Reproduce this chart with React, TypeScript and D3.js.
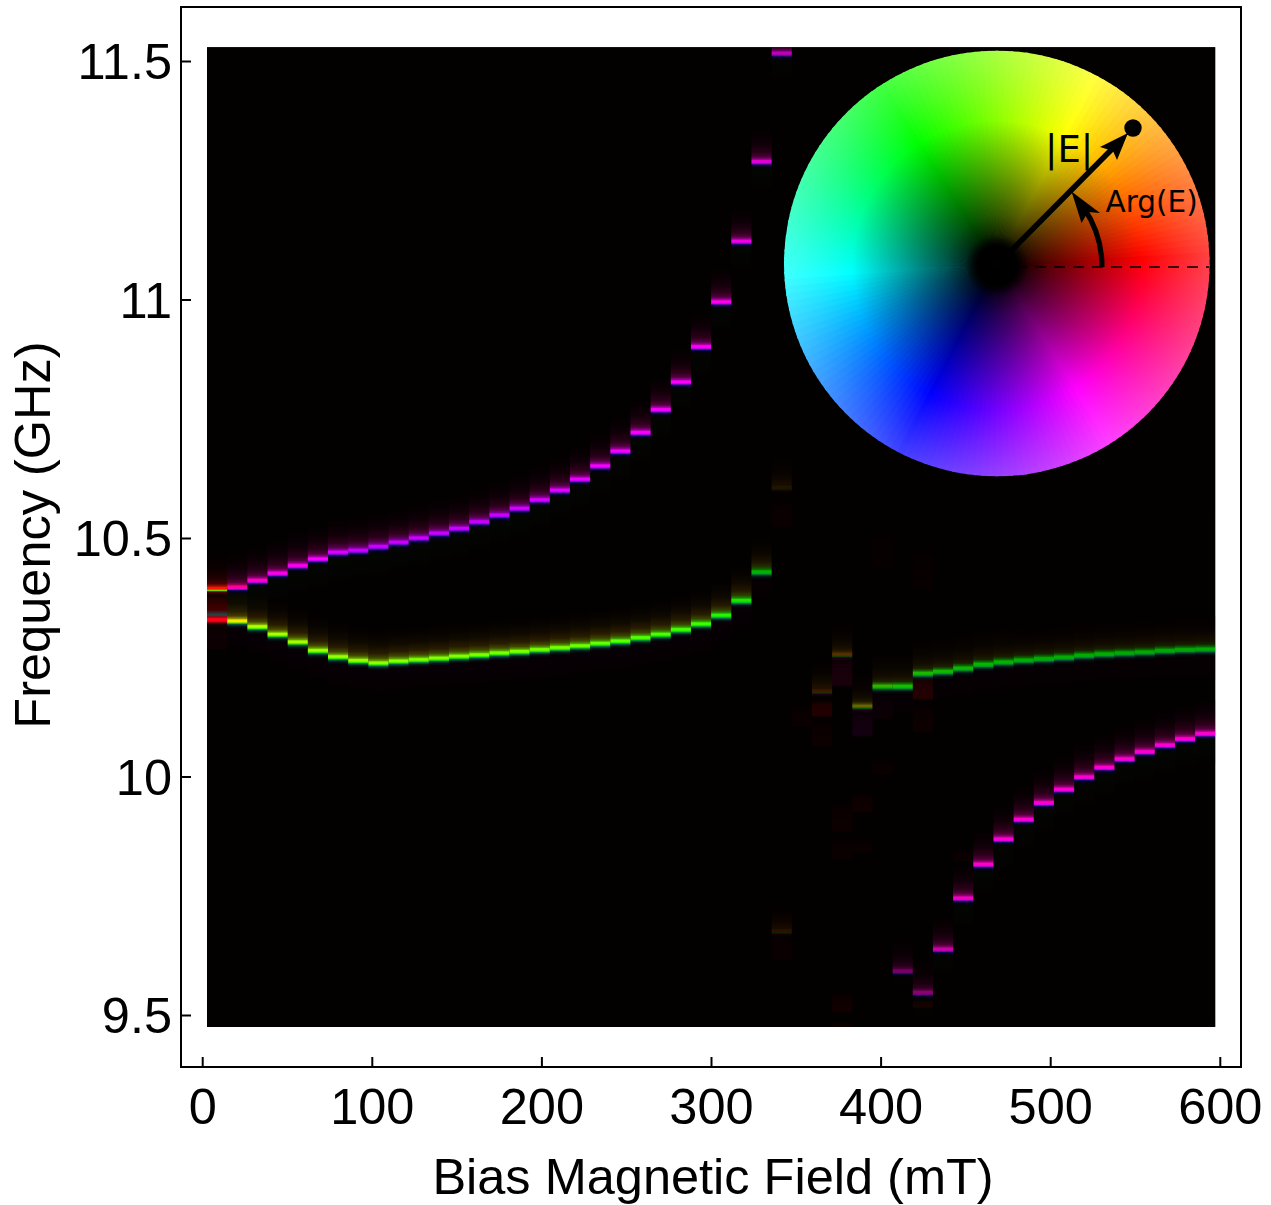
import React from "react";
import * as d3 from "d3";

const W = 1271;
const H = 1205;

const xTicks = [0, 100, 200, 300, 400, 500, 600];
const yTicks = [9.5, 10, 10.5, 11, 11.5];
const xLabel = "Bias Magnetic Field (mT)";
const yLabel = "Frequency (GHz)";

const fieldStart = 2.53;
const fieldStep = 11.89;
const columnCount = 50;
const freqTop = 11.53;
const freqBottom = 9.476;

// Upper branch, columns 0..28
const upperFreq = [10.394, 10.397, 10.411, 10.426, 10.442, 10.456, 10.47, 10.474, 10.482, 10.491, 10.5, 10.51, 10.52, 10.534, 10.548, 10.562, 10.58, 10.6, 10.623, 10.651, 10.682, 10.721, 10.769, 10.827, 10.901, 10.995, 11.122, 11.289, 11.516];
const upperHue = [5, 325, 312, 306, 304, 300, 292, 288, 288, 288, 288, 288, 288, 288, 288, 290, 292, 294, 296, 298, 298, 300, 300, 300, 302, 304, 304, 304, 304];
const upperAmp = [1, 1, 1, 1, 1, 1, 1, 1, 1, 1, 1, 1, 1, 1, 1, 1, 1, 1, 1, 1, 1, 1, 1, 1, 1, 1, 0.95, 0.9, 0.75];

// Lower branch, columns 0..27
const lowerFreq = [10.329, 10.326, 10.314, 10.298, 10.282, 10.264, 10.251, 10.243, 10.238, 10.242, 10.245, 10.248, 10.252, 10.255, 10.259, 10.262, 10.266, 10.27, 10.274, 10.279, 10.284, 10.291, 10.298, 10.308, 10.32, 10.338, 10.369, 10.429];
const lowerHue = [355, 58, 78, 80, 82, 84, 84, 84, 86, 88, 90, 90, 90, 90, 90, 90, 92, 92, 94, 96, 98, 100, 102, 104, 106, 110, 114, 120];
const lowerAmp = [1, 0.95, 1, 1, 1, 1, 1, 1, 1, 1, 1, 1, 1, 1, 1, 1, 1, 1, 1, 1, 1, 1, 1, 1, 1, 0.95, 0.9, 0.7];

// Green branch, columns 30..49
const rightFreq = [10.179, 10.256, 10.147, 10.189, 10.189, 10.216, 10.22, 10.227, 10.235, 10.24, 10.244, 10.247, 10.25, 10.254, 10.257, 10.259, 10.261, 10.264, 10.266, 10.267];
const rightHue = [28, 35, 62, 105, 115, 112, 115, 118, 120, 120, 120, 120, 120, 120, 120, 120, 120, 120, 120, 120];
const rightAmp = [0.22, 0.32, 0.4, 0.7, 0.75, 0.72, 0.72, 0.72, 0.72, 0.7, 0.68, 0.68, 0.68, 0.68, 0.68, 0.66, 0.66, 0.66, 0.66, 0.66];

// Bottom branch, columns 34..49
const bottomFreq = [9.592, 9.547, 9.638, 9.745, 9.816, 9.869, 9.91, 9.945, 9.973, 9.999, 10.019, 10.037, 10.052, 10.066, 10.079, 10.09];
const bottomHue = [312, 312, 312, 312, 312, 312, 312, 312, 312, 312, 312, 312, 312, 312, 312, 312];
const bottomAmp = [0.48, 0.55, 0.8, 0.95, 1, 1, 1, 1, 1, 1, 1, 1, 1, 1, 1, 1];

// Isolated dim peaks on the resonance columns: column, frequency, hue, amplitude
const dimPeaks = [
  [28, 10.606, 35, 0.13],
  [28, 9.676, 25, 0.16],
];

// Faint blocks: column, top freq, bottom freq, hue, amplitude
const faintBlocks = [
  [0, 10.382, 10.333, 0, 0.14],
  [0, 10.319, 10.266, 350, 0.035],
  [28, 10.581, 10.524, 350, 0.03],
  [28, 9.669, 9.616, 350, 0.03],
  [29, 10.151, 10.105, 0, 0.03],
  [30, 10.161, 10.126, 0, 0.13],
  [30, 10.119, 10.063, 0, 0.04],
  [31, 10.252, 10.189, 330, 0.09],
  [31, 9.945, 9.883, 0, 0.04],
  [31, 9.874, 9.826, 0, 0.03],
  [31, 9.547, 9.505, 0, 0.055],
  [31, 9.486, 9.476, 0, 0.035],
  [32, 10.138, 10.084, 295, 0.07],
  [32, 9.966, 9.925, 0, 0.05],
  [32, 9.868, 9.841, 0, 0.03],
  [33, 10.036, 10.004, 0, 0.03],
  [33, 10.512, 10.434, 0, 0.02],
  [33, 10.168, 10.12, 330, 0.03],
  [35, 10.21, 10.161, 0, 0.13],
  [35, 10.155, 10.092, 0, 0.04],
  [35, 9.532, 9.516, 0, 0.08],
  [35, 10.476, 10.392, 0, 0.02],
  [37, 9.847, 9.822, 0, 0.035],
];

const xScale = d3.scaleLinear().domain([0, 600]).range([202.7, 1220.3]);
const yScale = d3.scaleLinear().domain([9.5, 11.5]).range([1015.5, 61.5]);
const colX = (i: number) => xScale(fieldStart + i * fieldStep);

const color = (hue: number, amp: number) => d3.hsl(hue, 1, Math.max(0, amp) * 0.5).formatHex();

type Tone = { tail: number; under: number; faint: number; tailGain: number };
const magentaTone: Tone = { tail: 322, under: 245, faint: 130, tailGain: 0.95 };
const greenTone: Tone = { tail: 46, under: 170, faint: 290, tailGain: 0.85 };
const rightTone: Tone = { tail: 46, under: 170, faint: 290, tailGain: 0.55 };
const dimTone: Tone = { tail: 42, under: 300, faint: 350, tailGain: 0.7 };
const redTone: Tone = { tail: 0, under: 350, faint: 350, tailGain: 0.8 };

const ABOVE = 34;
const BELOW = 30;

// Vertical shape of one peak, in pixels above (+) and below (-) the centre.
const profile = (hue: number, amp: number, tone: Tone) => {
  const tailAmp = Math.max(amp, 0.45) * tone.tailGain;
  return [
    { d: ABOVE, c: color(tone.tail, 0) },
    { d: 26, c: color(tone.tail, tailAmp * 0.02) },
    { d: 18, c: color(tone.tail, tailAmp * 0.06) },
    { d: 10, c: color(tone.tail, tailAmp * 0.17) },
    { d: 5.5, c: color((tone.tail + hue) / 2, tailAmp * 0.33) },
    { d: 3, c: color(hue, amp * 0.6) },
    { d: 1.5, c: color(hue, amp) },
    { d: 0, c: color(hue, amp) },
    { d: -1.3, c: color(hue - (hue - tone.under) * 0.25, amp * 0.9) },
    { d: -2.8, c: color(tone.under, amp * 0.38) },
    { d: -4.5, c: color(tone.under, amp * 0.1) },
    { d: -7, c: color(tone.faint, amp * 0.02) },
    { d: -22, c: color(tone.faint, amp * 0.012) },
    { d: -BELOW, c: color(tone.faint, 0) },
  ];
};

type Peak = { id: string; col: number; y: number; hue: number; amp: number; tone: Tone };
const buildPeaks = (prefix: string, start: number, f: number[], h: number[], a: number[], tone: (hue: number, amp: number) => Tone): Peak[] =>
  f.map((v, i) => ({ id: `${prefix}${i}`, col: start + i, y: yScale(v), hue: h[i], amp: a[i], tone: tone(h[i], a[i]) }));

const peaks: Peak[] = [
  ...buildPeaks("u", 0, upperFreq, upperHue, upperAmp, (h) => (h < 20 ? redTone : magentaTone)),
  ...buildPeaks("l", 0, lowerFreq, lowerHue, lowerAmp, (h) => (h > 340 ? redTone : greenTone)),
  ...buildPeaks("r", 30, rightFreq, rightHue, rightAmp, (_h, a) => (a < 0.5 ? dimTone : rightTone)),
  ...buildPeaks("b", 34, bottomFreq, bottomHue, bottomAmp, () => magentaTone),
  ...dimPeaks.map((p, i) => ({ id: `d${i}`, col: p[0], y: yScale(p[1]), hue: p[2], amp: p[3], tone: { tail: p[2], under: 350, faint: 350, tailGain: 0.5 } })),
];

// Colour wheel
const hubX = 997;
const hubY = 265.5;
const discX = 996.8;
const discY = 263.5;
const discR = 212.8;
const wedgeR = 226;
const wedgeHues = d3.range(0, 360, 2);
const radialStops = [
  [0, 0],
  [20, 0],
  [25, 0.03],
  [32, 0.09],
  [50, 0.17],
  [100, 0.345],
  [145, 0.5],
  [213, 0.63],
  [226, 0.66],
];
const wedge = d3.arc();
const toSvgAngle = (deg: number) => ((90 - deg) * Math.PI) / 180;

const arcPath = () => {
  const p = d3.path();
  p.arc(hubX, 267, 105, 0, (-34 * Math.PI) / 180, true);
  return p.toString();
};

export default function App() {
  const imgL = colX(0);
  const imgR = colX(columnCount);
  const imgT = yScale(freqTop);
  const imgB = yScale(freqBottom);
  const colW = colX(1) - colX(0);
  return (
    <svg
      width={W}
      height={H}
      viewBox={`0 0 ${W} ${H}`}
      style={{ position: "absolute", left: 0, top: 0, display: "block", background: "#fff" }}
      fontFamily="'Liberation Sans', Arial, sans-serif"
    >
      <defs>
        <clipPath id="imgClip">
          <rect x={imgL} y={imgT} width={imgR - imgL} height={imgB - imgT} />
        </clipPath>
        <clipPath id="discClip">
          <circle cx={discX} cy={discY} r={discR} />
        </clipPath>
        {peaks.map((p) => {
          const stops = profile(p.hue, p.amp, p.tone);
          const top = p.y - ABOVE;
          const h = ABOVE + BELOW;
          return (
            <linearGradient key={p.id} id={p.id} gradientUnits="userSpaceOnUse" x1="0" x2="0" y1={top} y2={top + h}>
              {stops.map((s, i) => (
                <stop key={i} offset={(ABOVE - s.d) / h} stopColor={s.c} />
              ))}
            </linearGradient>
          );
        })}
        {faintBlocks.map((b, i) => (
          <linearGradient key={i} id={`fb${i}`} x1="0" x2="0" y1="0" y2="1">
            <stop offset="0" stopColor={color(b[3], 0)} />
            <stop offset="0.25" stopColor={color(b[3], b[4] * 0.7)} />
            <stop offset="0.9" stopColor={color(b[3], b[4])} />
            <stop offset="1" stopColor={color(b[3], b[4] * 0.3)} />
          </linearGradient>
        ))}
        {wedgeHues.map((h) => (
          <radialGradient key={h} id={`w${h}`} gradientUnits="userSpaceOnUse" cx={0} cy={0} r={wedgeR}>
            {radialStops.map((s, i) => (
              <stop key={i} offset={s[0] / wedgeR} stopColor={d3.hsl(h + 1 - 3, 1, s[1]).formatHex()} />
            ))}
          </radialGradient>
        ))}
      </defs>

      <rect x={imgL} y={imgT} width={imgR - imgL} height={imgB - imgT} fill="#030000" />
      <g clipPath="url(#imgClip)" style={{ isolation: "isolate" }}>
        <rect x={imgL} y={imgT} width={imgR - imgL} height={imgB - imgT} fill="#030000" />
        {faintBlocks.map((b, i) => (
          <rect key={i} x={colX(b[0])} y={yScale(b[1])} width={colW} height={yScale(b[2]) - yScale(b[1])} fill={`url(#fb${i})`} style={{ mixBlendMode: "screen" }} />
        ))}
        {peaks.map((p) => (
          <rect key={p.id} x={colX(p.col)} y={p.y - ABOVE} width={colW} height={ABOVE + BELOW} fill={`url(#${p.id})`} style={{ mixBlendMode: "screen" }} />
        ))}
      </g>

      <g clipPath="url(#discClip)">
        <g transform={`translate(${hubX},${hubY})`}>
          {wedgeHues.map((h) => (
            <path
              key={h}
              d={wedge({ innerRadius: 0, outerRadius: wedgeR, startAngle: toSvgAngle(h + 2.3), endAngle: toSvgAngle(h - 0.3) }) as string}
              fill={`url(#w${h})`}
            />
          ))}
        </g>
      </g>

      <line x1={1016} x2={1209} y1={267} y2={267} stroke="#000" strokeWidth={1.5} strokeDasharray="11 8" />
      <line x1={1008} y1={254} x2={1116} y2={145} stroke="#000" strokeWidth={5.5} />
      <path d="M1128,133 L1100,147 L1113,151 L1117,160 Z" fill="#000" />
      <circle cx={1133} cy={128} r={8.7} fill="#000" />
      <path d={arcPath()} fill="none" stroke="#000" strokeWidth={5.2} />
      <path d="M1071.5,191.5 L1100,213 L1088,212 L1081.5,223 Z" fill="#000" />
      <text x={1045} y={162} fontFamily="'DejaVu Sans'" fontSize={37} fill="#000">|E|</text>
      <text x={1105.5} y={211.5} fontFamily="'DejaVu Sans'" fontSize={29.5} fill="#000">Arg(E)</text>

      <rect x={181} y={7} width={1060} height={1060} fill="none" stroke="#000" strokeWidth={2} />
      {xTicks.map((t) => (
        <g key={t}>
          <line x1={xScale(t)} x2={xScale(t)} y1={1067} y2={1057} stroke="#000" strokeWidth={2} />
          <text x={xScale(t)} y={1124} textAnchor="middle" fontSize={50.5} fill="#000">{t}</text>
        </g>
      ))}
      {yTicks.map((t) => (
        <g key={t}>
          <line x1={181} x2={191} y1={yScale(t)} y2={yScale(t)} stroke="#000" strokeWidth={2} />
          <text x={172} y={yScale(t) + 17.5} textAnchor="end" fontSize={50.5} fill="#000">{t}</text>
        </g>
      ))}
      <text x={713} y={1194} textAnchor="middle" fontSize={50.5} fill="#000">{xLabel}</text>
      <text transform="translate(50,535) rotate(-90)" textAnchor="middle" fontSize={50.5} fill="#000">{yLabel}</text>
    </svg>
  );
}
